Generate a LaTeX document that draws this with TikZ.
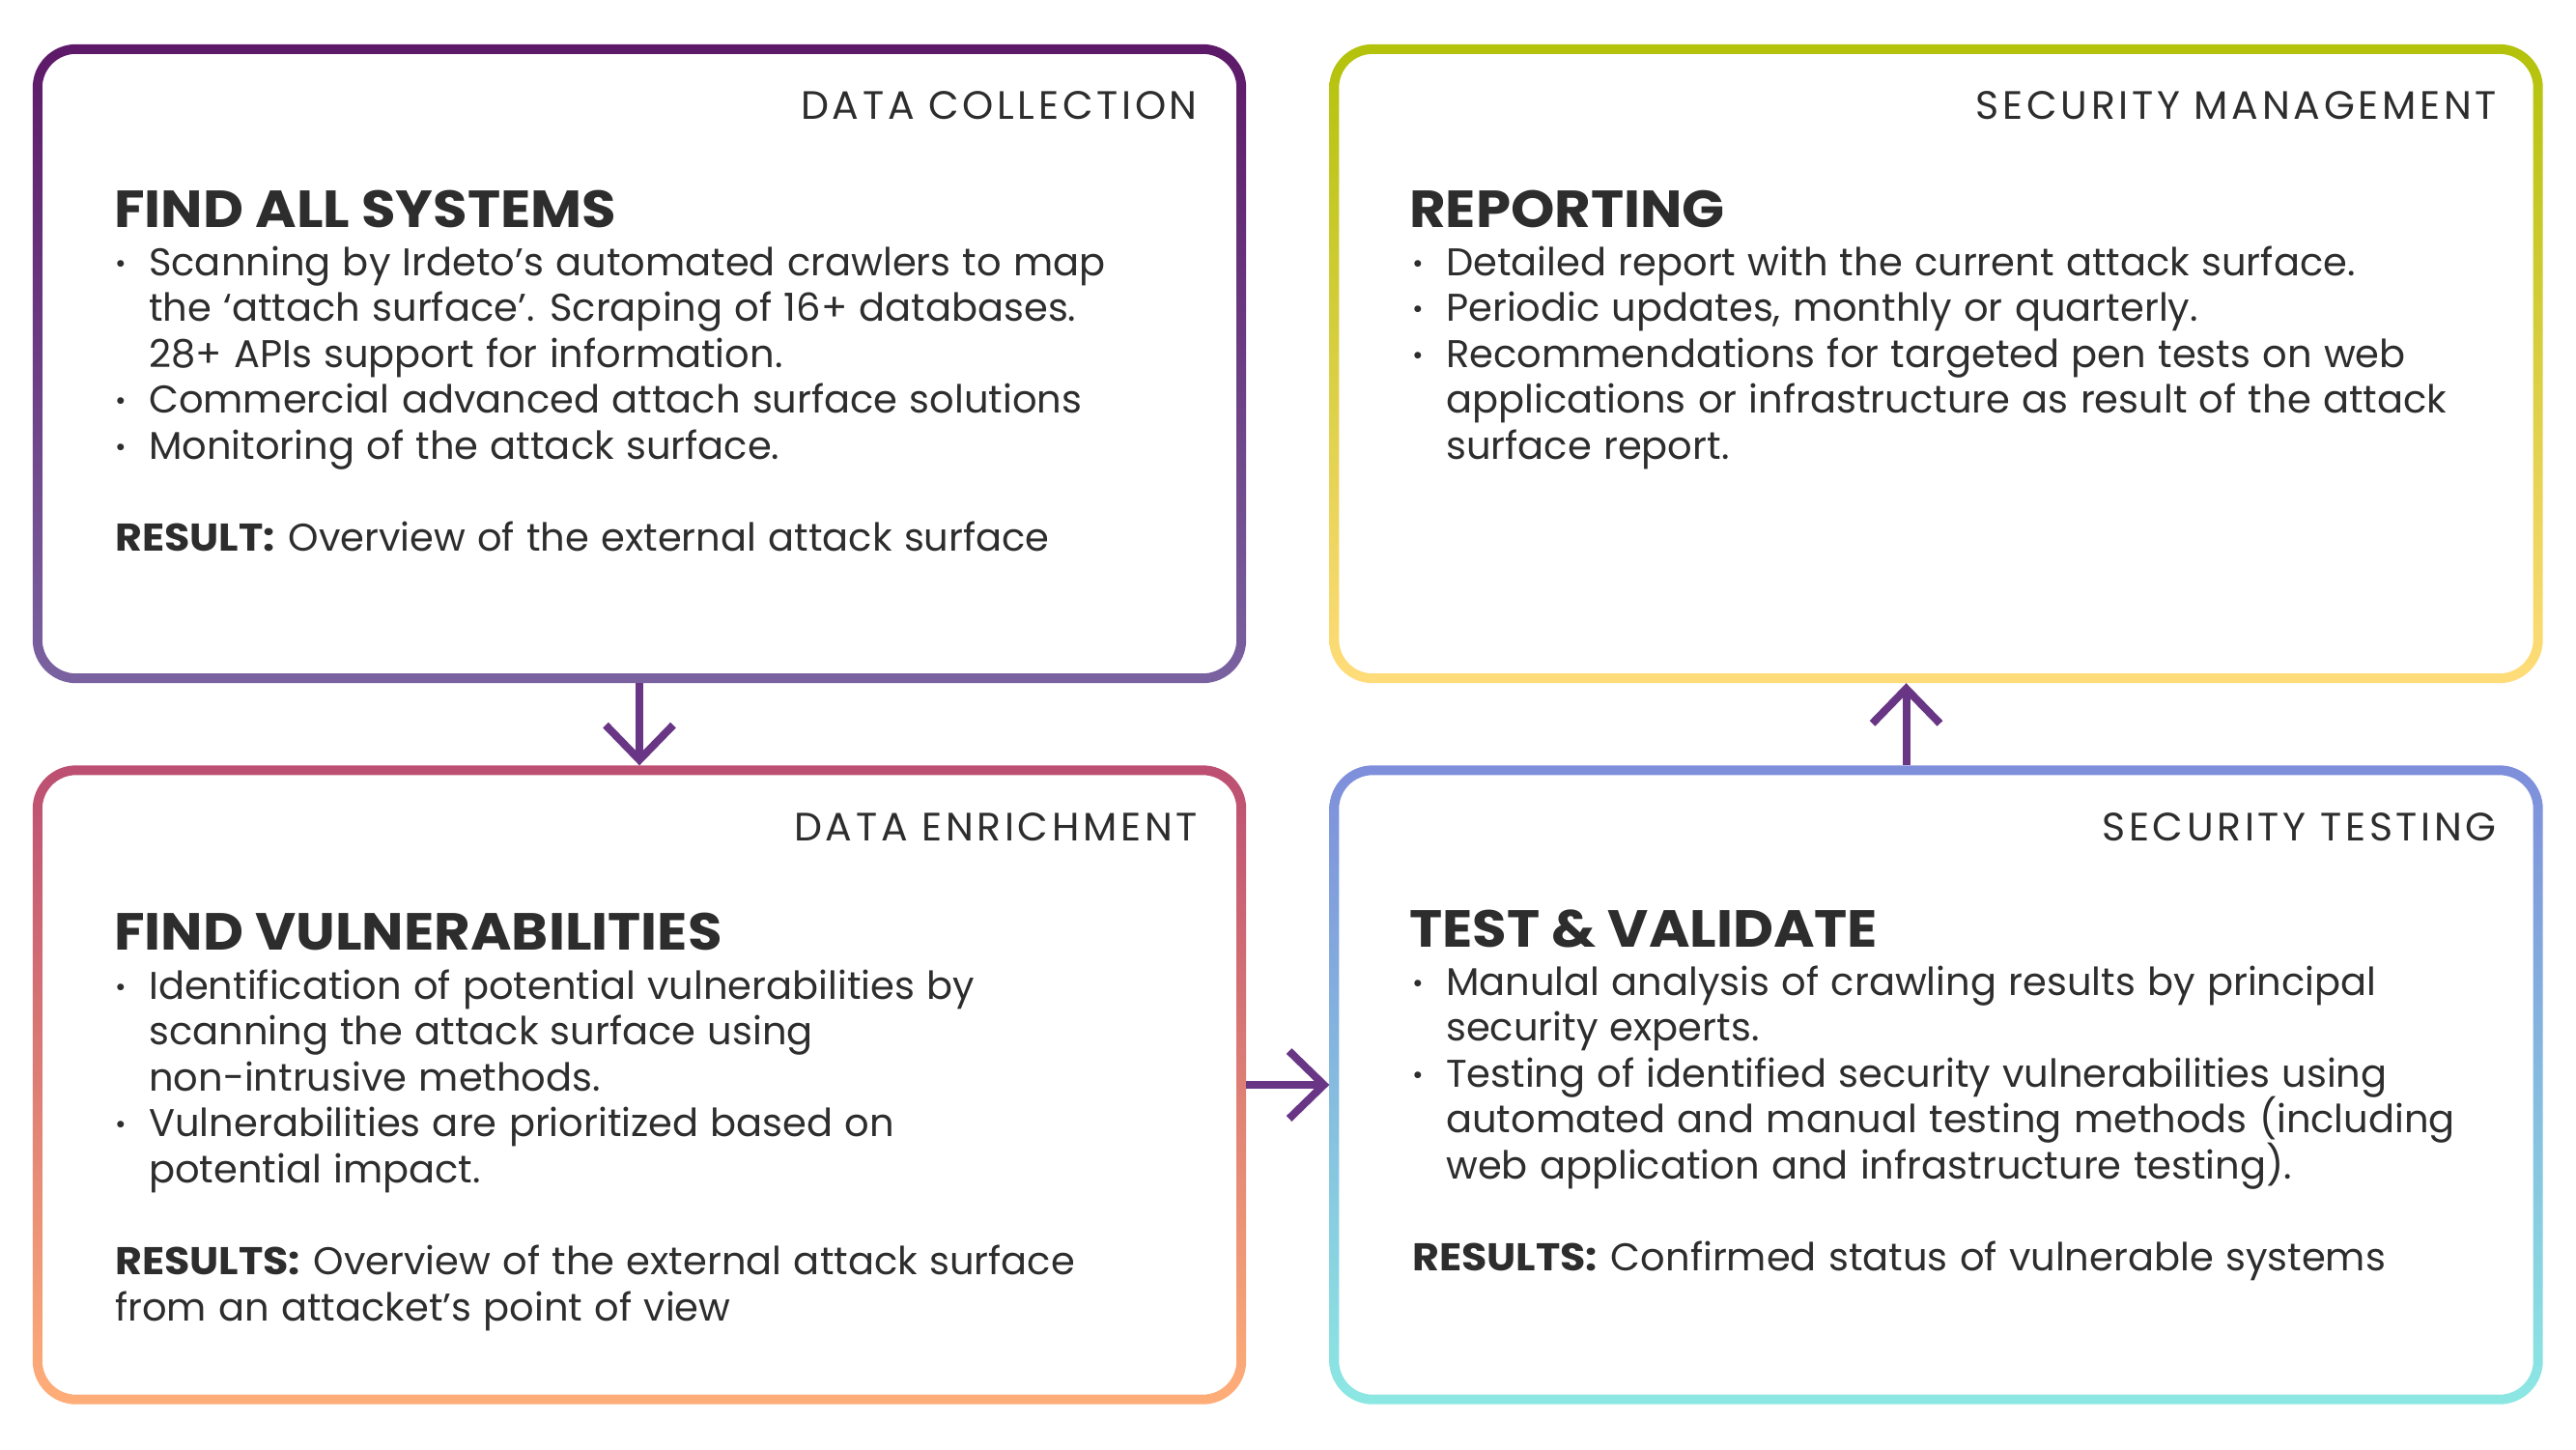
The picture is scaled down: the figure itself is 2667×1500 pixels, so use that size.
\documentclass[tikz,border=0pt]{standalone}
\usepackage{fontspec}
\setmainfont{Poppins}
\newfontfamily\headfont{Poppins}[FakeStretch=1.07]
\usepackage{graphicx}
\usetikzlibrary{arrows.meta}
\definecolor{txt}{HTML}{2D2D2D}
\definecolor{arrowc}{HTML}{693686}
\definecolor{tlA}{HTML}{5D1968}
\definecolor{tlB}{HTML}{7A62A0}
\definecolor{trA}{HTML}{B3C20A}
\definecolor{trB}{HTML}{FFDC7A}
\definecolor{blA}{HTML}{BC4F72}
\definecolor{blB}{HTML}{FFAE78}
\definecolor{brA}{HTML}{7E8EDB}
\definecolor{brB}{HTML}{8CE8E3}
\newcommand\gframe[3]{%
  \shade[top color=#2, bottom color=#3, even odd rule, rounded corners=45pt]
    ([xshift=-5pt,yshift=5pt]#1.north west) rectangle ([xshift=5pt,yshift=-5pt]#1.south east)
    [rounded corners=35pt]
    ([xshift=5pt,yshift=-5pt]#1.north west) rectangle ([xshift=-5pt,yshift=5pt]#1.south east);}
\newcommand\bul{\makebox[35pt][l]{\raisebox{3pt}{\scalebox{0.7}{•}}}}
\newcommand\bi[1]{\hbox{\bul#1}}
\newcommand\bc[1]{\hbox{\hspace{35pt}#1}}
\newcommand\bl[1]{\hbox{#1}}
\newcommand\res[1]{{\headfont\bfseries #1}\hspace{14pt}}
\newcommand\bodytext[1]{\vtop{\baselineskip=47.6pt\lineskiplimit=-100pt\spaceskip=1.15\fontdimen2\font #1}}
\begin{document}
\begin{tikzpicture}[x=1pt,y=-1pt,
  frame/.style={rectangle, minimum width=1246pt, minimum height=651pt, inner sep=0pt},
  lbl/.style={anchor=base east, inner sep=0pt, text=txt,
    font=\fontsize{41}{48}\selectfont\addfontfeature{LetterSpace=9}},
  head/.style={anchor=base west, inner sep=0pt, text=txt,
    font=\headfont\fontsize{54}{60}\selectfont\bfseries},
  body/.style={anchor=base west, inner sep=0pt, text=txt,
    font=\fontsize{40}{47.6}\selectfont},
  flow/.style={line width=8pt, draw=arrowc, -{Straight Barb[length=36pt,width=70pt]}}]
\useasboundingbox[fill=white] (0,0) rectangle (2667,1500);

\node[frame] (b1) at (662,376.5) {};
\node[frame] (b2) at (2004.5,376.5) {};
\node[frame] (b3) at (662,1123) {};
\node[frame] (b4) at (2004.5,1123) {};
\gframe{b1}{tlA}{tlB}
\gframe{b2}{trA}{trB}
\gframe{b3}{blA}{blB}
\gframe{b4}{brA}{brB}

% top-left
\node[lbl] (l1) at (1240,123) {DATA COLLECTION};
\node[head] (h1) at (118,235) {FIND ALL SYSTEMS};
\node[body] (t1) at (119,285) {\bodytext{%
  \bi{Scanning by Irdeto’s automated crawlers to map}
  \bc{the ‘attach surface’. Scraping of 16+ databases.}
  \bc{28+ APIs support for information.}
  \bi{Commercial advanced attach surface solutions}
  \bi{Monitoring of the attack surface.}
  \bl{}
  \bl{\res{RESULT:}Overview of the external attack surface}}};

% top-right
\node[lbl] (l2) at (2585,123) {SECURITY MANAGEMENT};
\node[head] (h2) at (1459,235) {REPORTING};
\node[body] (t2) at (1462,285) {\bodytext{%
  \bi{Detailed report with the current attack surface.}
  \bi{Periodic updates, monthly or quarterly.}
  \bi{Recommendations for targeted pen tests on web}
  \bc{applications or infrastructure as result of the attack}
  \bc{surface report.}}};

% bottom-left
\node[lbl] (l3) at (1240,870) {DATA ENRICHMENT};
\node[head] (h3) at (118,983) {FIND VULNERABILITIES};
\node[body] (t3) at (119,1034) {\bodytext{%
  \bi{Identification of potential vulnerabilities by}
  \bc{scanning the attack surface using}
  \bc{non-intrusive methods.}
  \bi{Vulnerabilities are prioritized based on}
  \bc{potential impact.}
  \bl{}
  \bl{\res{RESULTS:}Overview of the external attack surface}
  \bl{from an attacket’s point of view}}};

% bottom-right
\node[lbl] (l4) at (2585,870) {SECURITY TESTING};
\node[head] (h4) at (1459,980) {TEST \& VALIDATE};
\node[body] (t4) at (1462,1030) {\bodytext{%
  \bi{Manulal analysis of crawling results by principal}
  \bc{security experts.}
  \bi{Testing of identified security vulnerabilities using}
  \bc{automated and manual testing methods (including}
  \bc{web application and infrastructure testing).}
  \bl{}
  \bl{\res{RESULTS:}Confirmed status of vulnerable systems}}};

% connectors
\draw[flow] ([yshift=-5pt]b1.south) -- ([yshift=5pt]b3.north);
\draw[flow] ([xshift=5pt]b3.east) -- ([xshift=-5pt]b4.west);
\draw[flow] ([xshift=-31pt,yshift=5pt]b4.north) -- ([xshift=-31pt,yshift=-5pt]b2.south);
\end{tikzpicture}
\end{document}
